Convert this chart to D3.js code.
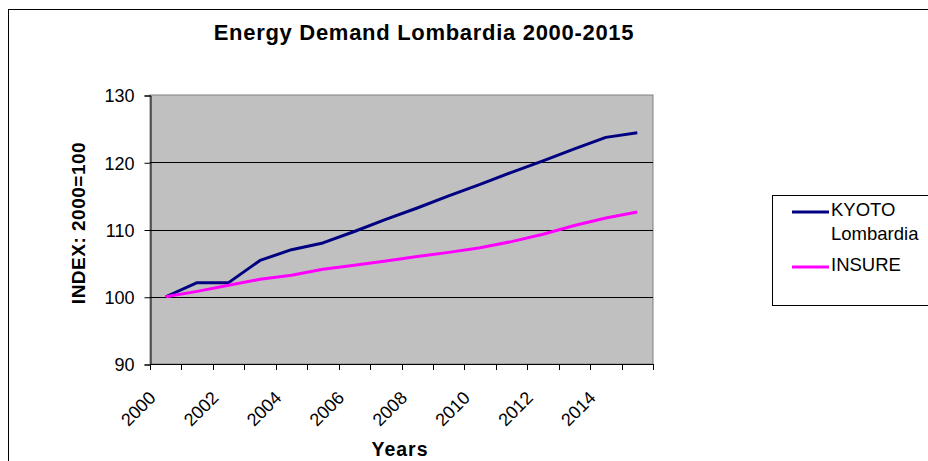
<!DOCTYPE html>
<html>
<head>
<meta charset="utf-8">
<script src="https://cdn.jsdelivr.net/npm/d3@7"></script>
<style>
  body { margin: 0; background: #fff; }
  text { font-family: "Liberation Sans", Arial, sans-serif; fill: #000; }
</style>
</head>
<body>
<svg id="chart" width="928" height="461"></svg>
<script>
const width = 928;
const height = 461;

// data
const years = d3.range(2000, 2016);
const kyoto = [100, 102.1, 102.1, 105.4, 107.0, 108.0, 109.7, 111.5, 113.2, 115.0, 116.7, 118.5, 120.2, 122.0, 123.7, 124.4];
const insure = [100, 100.8, 101.7, 102.6, 103.2, 104.1, 104.7, 105.3, 106.0, 106.6, 107.3, 108.2, 109.3, 110.6, 111.7, 112.6];
const yTicks = [90, 100, 110, 120, 130];
const xLabels = [2000, 2002, 2004, 2006, 2008, 2010, 2012, 2014];

const series = [
  {name: ['KYOTO', 'Lombardia'], values: kyoto, colour: '#000080'},
  {name: ['INSURE'], values: insure, colour: '#ff00ff'}
];

const plot = {left: 150, right: 653, top: 95, bottom: 364};

const svg = d3.select('#chart');

// outer chart border
svg.append('rect')
  .attr('x', 8.5).attr('y', 9.5)
  .attr('width', width + 10).attr('height', height + 10)
  .attr('fill', '#fff').attr('stroke', '#000');

const scaleX = d3.scaleBand()
  .domain(years)
  .range([plot.left, plot.right]);

const scaleY = d3.scaleLinear()
  .domain([90, 130])
  .range([plot.bottom, plot.top]);

const xPos = (d, i) => scaleX(years[i]) + scaleX.bandwidth() / 2;

// plot background
svg.append('rect')
  .attr('x', plot.left).attr('y', plot.top)
  .attr('width', plot.right - plot.left).attr('height', plot.bottom - plot.top)
  .attr('fill', '#c0c0c0')
  .attr('stroke', '#808080');

// gridlines
svg.append('g')
  .selectAll('line')
  .data(yTicks.filter(t => t > 90 && t < 130))
  .enter().append('line')
  .attr('x1', plot.left).attr('x2', plot.right)
  .attr('y1', d => Math.round(scaleY(d)) + 0.5)
  .attr('y2', d => Math.round(scaleY(d)) + 0.5)
  .attr('stroke', '#000');

// y axis
const yAxis = d3.axisLeft(scaleY).tickValues(yTicks).tickSize(6).tickPadding(10);
svg.append('g')
  .attr('transform', `translate(${plot.left + 0.5},0.5)`)
  .call(yAxis)
  .call(g => g.selectAll('text').style('font-size', '18px').attr('dy', '0.35em'))
  .call(g => g.selectAll('line, path').attr('stroke', '#000'));

// x axis: ticks on band edges
const edges = years.map(y => scaleX(y)).concat([plot.right]);
const xg = svg.append('g');
xg.append('line')
  .attr('x1', plot.left).attr('x2', plot.right)
  .attr('y1', plot.bottom + 0.5).attr('y2', plot.bottom + 0.5)
  .attr('stroke', '#000');
xg.selectAll('line.tick')
  .data(edges)
  .enter().append('line')
  .attr('class', 'tick')
  .attr('x1', d => Math.round(d) + 0.5).attr('x2', d => Math.round(d) + 0.5)
  .attr('y1', plot.bottom).attr('y2', plot.bottom + 6)
  .attr('stroke', '#000');
xg.selectAll('text')
  .data(xLabels)
  .enter().append('text')
  .attr('transform', d => `translate(${scaleX(d) + scaleX.bandwidth() / 2 - 9},${plot.bottom + 35}) rotate(-45)`)
  .attr('text-anchor', 'end')
  .style('font-size', '18px')
  .text(d => d);

// lines
const line = d3.line()
  .x(xPos)
  .y(d => scaleY(d));

svg.append('g')
  .selectAll('path')
  .data(series)
  .enter().append('path')
  .attr('d', d => line(d.values))
  .attr('fill', 'none')
  .attr('stroke', d => d.colour)
  .attr('stroke-width', 3)
  .attr('stroke-linejoin', 'round');

// titles
svg.append('text')
  .attr('x', 424).attr('y', 40)
  .attr('text-anchor', 'middle')
  .style('font-size', '22px').style('font-weight', 'bold')
  .style('letter-spacing', '0.7px')
  .text('Energy Demand Lombardia 2000-2015');

svg.append('text')
  .attr('transform', 'translate(85,223) rotate(-90)')
  .attr('text-anchor', 'middle')
  .style('font-size', '19px').style('font-weight', 'bold')
  .style('letter-spacing', '0.5px')
  .text('INDEX: 2000=100');

svg.append('text')
  .attr('x', 400).attr('y', 456)
  .attr('text-anchor', 'middle')
  .style('font-size', '19.5px').style('font-weight', 'bold')
  .style('letter-spacing', '1px')
  .text('Years');

// legend
const legend = svg.append('g');
legend.append('rect')
  .attr('x', 772.5).attr('y', 195.5)
  .attr('width', 170).attr('height', 110)
  .attr('fill', '#fff').attr('stroke', '#000');

const legendY = [212, 267];
const item = legend.selectAll('g.item')
  .data(series)
  .enter().append('g')
  .attr('class', 'item')
  .attr('transform', (d, i) => `translate(0,${legendY[i]})`);
item.append('line')
  .attr('x1', 792).attr('x2', 829)
  .attr('stroke', d => d.colour)
  .attr('stroke-width', 3);
item.append('text')
  .attr('x', 831)
  .style('font-size', '18.5px')
  .selectAll('tspan')
  .data(d => d.name)
  .enter().append('tspan')
  .attr('x', 831)
  .attr('y', (d, i) => 4 + i * 24)
  .text(d => d);
</script>
</body>
</html>
